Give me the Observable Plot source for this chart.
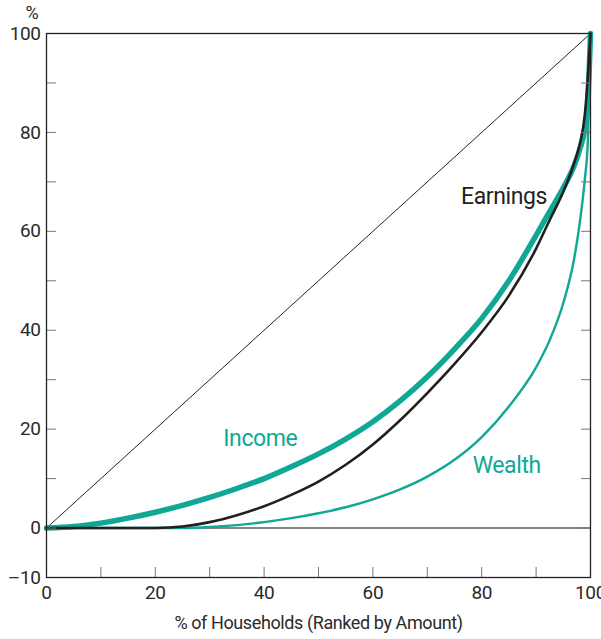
<!DOCTYPE html>
<html><head><meta charset="utf-8">
<script src="https://cdn.jsdelivr.net/npm/d3@7"></script>
<script src="https://cdn.jsdelivr.net/npm/@observablehq/plot@0.6"></script>
<style>body{margin:0;background:#fff} svg text{letter-spacing:-0.4px}</style>
</head><body><div id="chart"></div>
<script>
// % of households (ranked by amount)
const households = [0,5,10,15,20,25,30,35,40,45,50,55,60,65,70,75,80,85,90,92.5,95,97,98,99,99.5,100];
// cumulative shares (%)
const incomeShare   = [0,0.3,1.0,2.0,3.2,4.6,6.2,8.0,10.0,12.4,15.0,18.0,21.5,25.7,30.6,36.2,42.4,50.0,59.2,64.0,68.8,73.3,76.5,81,86,100];
const earningsShare = [0,0,0,0,0,0.3,1.2,2.6,4.4,6.7,9.4,12.8,16.9,21.8,27.3,33.2,39.6,47.0,56.5,62.3,68.0,73.8,77.5,84,91,100];
const wealthShare   = [0,0,0,0,0,0,0.2,0.6,1.2,2.0,3.0,4.2,5.8,7.8,10.4,13.8,18.4,24.6,32.5,38.0,45.5,54.5,61.5,71,78,100];
const equalityX = [0,100];
const equalityY = [0,100];

const xTicks = [0,10,20,30,40,50,60,70,80,90,100];
const xTickLabels = [0,20,40,60,80,100];
const yTicks = [-10,0,10,20,30,40,50,60,70,80,90,100];
const yTickLabels = [-10,0,20,40,60,80,100];

const seriesNames = ["Earnings","Income","Wealth"];
const seriesLabelX = [84.1,39.3,84.6];
const seriesLabelY = [67.1,18.1,12.6];
const seriesColors = ["#231f20","#0fa894","#0fa894"];

const yTitle = "%";
const xTitle = "% of Households (Ranked by Amount)";

const teal = "#0fa894";
const font = "Roboto,'Liberation Sans',sans-serif";

const toRows = (ys) => households.map((x, i) => ({x, y: ys[i]}));
const income = toRows(incomeShare);
const earnings = toRows(earningsShare);
const wealth = toRows(wealthShare);
const diag = equalityX.map((x, i) => ({x, y: equalityY[i]}));
const labels = seriesNames.map((name, i) => ({name, x: seriesLabelX[i], y: seriesLabelY[i], color: seriesColors[i]}));

const chart = Plot.plot({
  width: 601,
  height: 639,
  marginLeft: 46,
  marginRight: 11,
  marginTop: 33,
  marginBottom: 62,
  style: {fontFamily: font, fontSize: "19px", color: "#2a2a2a", background: "#fff"},
  x: {domain: [0,100]},
  y: {domain: [-10,100]},
  marks: [
    Plot.ruleY([0], {stroke: "#858585", strokeWidth: 2}),
    Plot.line(diag, {x: "x", y: "y", stroke: "#222", strokeWidth: 1}),
    Plot.line(wealth, {x: "x", y: "y", stroke: teal, strokeWidth: 2.4, curve: "monotone-x"}),
    Plot.line(income, {x: "x", y: "y", stroke: teal, strokeWidth: 5.5, curve: "monotone-x"}),
    Plot.line(earnings, {x: "x", y: "y", stroke: "#231f20", strokeWidth: 2.6, curve: "monotone-x"}),
    Plot.axisY(yTicks, {anchor: "left", tickSize: -10, tickFormat: () => "", label: null, stroke: "#777"}),
    Plot.axisY(yTicks, {anchor: "right", tickSize: -10, tickFormat: () => "", label: null, stroke: "#777"}),
    Plot.axisX(xTicks, {anchor: "bottom", tickSize: -10, tickFormat: () => "", label: null, stroke: "#777"}),
    Plot.axisY(yTickLabels, {anchor: "left", tickSize: 0, tickPadding: 6, label: null, fontSize: 19,
      tickFormat: d => d < 0 ? "\u2013" + (-d) : String(d)}),
    Plot.axisX(xTickLabels, {anchor: "bottom", tickSize: 0, tickPadding: 8, label: null, fontSize: 19}),
    Plot.frame({stroke: "#222", strokeWidth: 1.3}),
    Plot.text(labels, {x: "x", y: "y", text: "name", fill: "color", fontSize: 23}),
    Plot.text([yTitle], {frameAnchor: "top-left", dx: -21, dy: -27, fontSize: 18}),
    Plot.text([xTitle], {frameAnchor: "bottom", dy: 51, fontSize: 18})
  ]
});
document.getElementById("chart").appendChild(chart);
</script>
</body></html>
